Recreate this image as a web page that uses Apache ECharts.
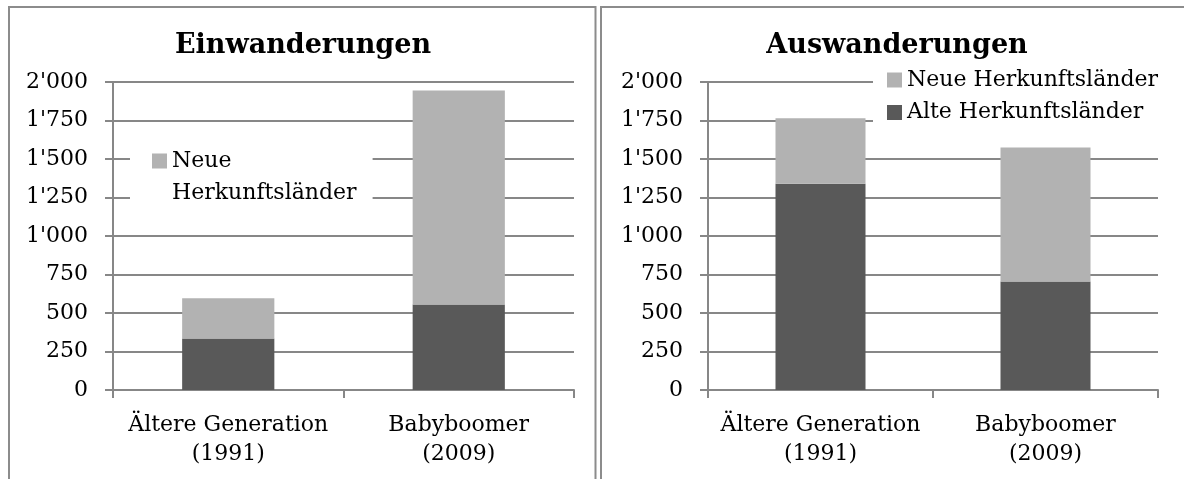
<!DOCTYPE html>
<html>
<head>
<meta charset="utf-8">
<script src="https://cdn.jsdelivr.net/npm/echarts@6/dist/echarts.min.js"></script>
<style>
html,body{margin:0;padding:0;background:#fff;}
#c{width:1184px;height:479px;}
</style>
</head>
<body>
<div id="c"></div>
<script>
const categories = ['Ältere Generation\n(1991)', 'Babyboomer\n(2009)'];
const einAlte = [335, 555];
const einNeue = [260, 1390];
const ausAlte = [1340, 705];
const ausNeue = [425, 870];
const yMin = 0, yMax = 2000, yStep = 250;
const titles = ['Einwanderungen', 'Auswanderungen'];
const seriesNames = ['Neue Herkunftsländer', 'Alte Herkunftsländer'];

const FONT = 'DejaVu Serif';
const GRID = '#878787';
const DARK = '#595959';
const LIGHT = '#b2b2b2';

function fmt(v) {
  const s = String(v);
  return s.length > 3 ? s.slice(0, s.length - 3) + "'" + s.slice(-3) : s;
}

function xAxis(idx) {
  return {
    type: 'category', gridIndex: idx, data: categories,
    axisLine: {lineStyle: {color: GRID, width: 2}},
    axisTick: {show: true, length: 8, lineStyle: {color: GRID, width: 2}},
    axisLabel: {color: '#000', fontFamily: FONT, fontSize: 22, lineHeight: 29, margin: 21, interval: 0}
  };
}
function yAxis(idx) {
  return {
    type: 'value', gridIndex: idx, min: yMin, max: yMax, interval: yStep,
    axisLine: {show: true, lineStyle: {color: GRID, width: 2}},
    axisTick: {show: true, length: 8, lineStyle: {color: GRID, width: 2}},
    splitLine: {show: true, lineStyle: {color: GRID, width: 2}},
    axisLabel: {color: '#000', fontFamily: FONT, fontSize: 22, margin: 25, formatter: fmt}
  };
}
function bar(name, data, idx, color) {
  return {
    type: 'bar', name: name, data: data, stack: 's' + idx,
    xAxisIndex: idx, yAxisIndex: idx, barWidth: '40%',
    itemStyle: {color: color}, emphasis: {disabled: true}
  };
}

const chart = echarts.init(document.getElementById('c'), null, {renderer: 'canvas'});
chart.setOption({
  animation: false,
  backgroundColor: '#fff',
  title: [
    {text: titles[0], left: 303, top: 32, textAlign: 'center', padding: 0,
     textStyle: {fontFamily: FONT, fontWeight: 'bold', fontSize: 27, color: '#000'}},
    {text: titles[1], left: 897, top: 32, textAlign: 'center', padding: 0,
     textStyle: {fontFamily: FONT, fontWeight: 'bold', fontSize: 27, color: '#000'}}
  ],
  legend: [
    {
      data: [seriesNames[0]], left: 130, top: 140, orient: 'vertical',
      padding: [5, 16, 5, 22], backgroundColor: '#fff',
      icon: 'path://M0,0L15,0L15,15L0,15Z M0,47L15,47',
      itemWidth: 15, itemHeight: 47, symbolKeepAspect: false,
      formatter: function () { return 'Neue\nHerkunftsländer'; },
      textStyle: {fontFamily: FONT, fontSize: 22, lineHeight: 32, color: '#000'},
      selectedMode: false
    },
    {
      data: seriesNames, left: 873, top: 61, orient: 'vertical',
      padding: [8, 26, 8, 14], backgroundColor: '#fff',
      icon: 'rect', itemWidth: 15, itemHeight: 15, itemGap: 10.5,
      textStyle: {fontFamily: FONT, fontSize: 22, lineHeight: 22, color: '#000'},
      selectedMode: false
    }
  ],
  grid: [
    {left: 113, top: 82, width: 461, height: 308},
    {left: 708, top: 82, width: 450, height: 308}
  ],
  xAxis: [xAxis(0), xAxis(1)],
  yAxis: [yAxis(0), yAxis(1)],
  series: [
    bar(seriesNames[1], einAlte, 0, DARK),
    bar(seriesNames[0], einNeue, 0, LIGHT),
    bar(seriesNames[1], ausAlte, 1, DARK),
    bar(seriesNames[0], ausNeue, 1, LIGHT)
  ],
  graphic: [
    {type: 'rect', shape: {x: 9, y: 7, width: 586.5, height: 520},
     style: {fill: 'none', stroke: '#8c8c8c', lineWidth: 2}, silent: true, z: 100},
    {type: 'rect', shape: {x: 601, y: 7, width: 700, height: 520},
     style: {fill: 'none', stroke: '#8c8c8c', lineWidth: 2}, silent: true, z: 100}
  ]
});
</script>
</body>
</html>
